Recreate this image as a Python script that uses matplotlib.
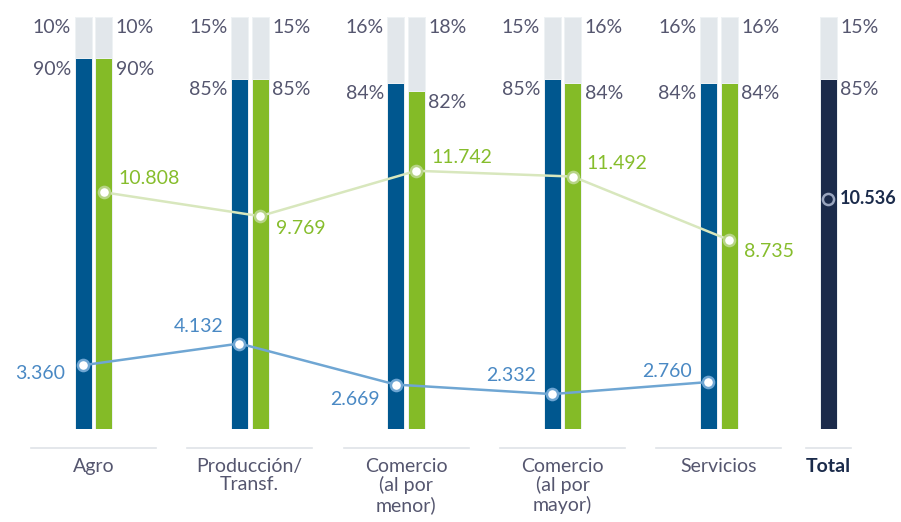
import matplotlib.pyplot as plt
import numpy as np

# Sector data
categories = ["Agro", "Producción/\nTransf.", "Comercio\n(al por\nmenor)",
              "Comercio\n(al por\nmayor)", "Servicios"]
blue_pct = [90, 85, 84, 85, 84]
green_pct = [90, 85, 82, 84, 84]
total_pct = 85
blue_vals = [3.360, 4.132, 2.669, 2.332, 2.760]
green_vals = [10.808, 9.769, 11.742, 11.492, 8.735]
total_val = 10.536
total_label = "Total"

# label offsets in pixels (dx, dy, ha)
green_offs = [(15, 14, "left"), (16, -12, "left"), (15, 13, "left"),
              (14, 13, "left"), (15, -12, "left")]
blue_offs = [(-18, -8, "right"), (-16, 17, "right"), (-16, -15, "right"),
             (-16, 19, "right"), (-17, 11, "right")]

plt.rcParams['font.family'] = ['Lato', 'DejaVu Sans']

c_blue = "#00578f"
c_green = "#84bb27"
c_navy = "#1b2b4b"
c_grey = "#e2e7eb"
c_text = "#55566f"
c_bline = "#6fa6d3"
c_blab = "#4a89c4"
c_gline = "#d8e7bd"
c_gmark = "#b7d486"
c_glab = "#86bd2c"

fig = plt.figure(figsize=(9.01, 5.22), dpi=100)
ax = fig.add_axes([0.0083, 0.178, 0.989, 0.789])
ax.set_xlim(-0.55, 5.15)
ax.set_ylim(0, 100)
ax.axis("off")

x = np.arange(len(categories))
x_tot = 4.70
w = 0.11
off = 0.066
fs = 14

bx = x - off
gx = x + off
edge = dict(edgecolor="#eef2f5", linewidth=0.7)
ax.bar(bx, blue_pct, w, color=c_blue, **edge)
ax.bar(bx, [100 - p for p in blue_pct], w, bottom=blue_pct, color=c_grey, **edge)
ax.bar(gx, green_pct, w, color=c_green, **edge)
ax.bar(gx, [100 - p for p in green_pct], w, bottom=green_pct, color=c_grey, **edge)
ax.bar(x_tot, total_pct, w, color=c_navy, **edge)
ax.bar(x_tot, 100 - total_pct, w, bottom=total_pct, color=c_grey, **edge)

# percentage labels
lx = w / 2 + 0.022
for i in range(len(categories)):
    ax.text(bx[i] - lx, 97.5, f"{100 - blue_pct[i]}%", ha="right", va="center",
            fontsize=fs, color=c_text)
    ax.text(bx[i] - lx, blue_pct[i] - 2.6, f"{blue_pct[i]}%", ha="right", va="center",
            fontsize=fs, color=c_text)
    ax.text(gx[i] + lx, 97.5, f"{100 - green_pct[i]}%", ha="left", va="center",
            fontsize=fs, color=c_text)
    ax.text(gx[i] + lx, green_pct[i] - 2.6, f"{green_pct[i]}%", ha="left", va="center",
            fontsize=fs, color=c_text)
ax.text(x_tot + lx, 97.5, f"{100 - total_pct}%", ha="left", va="center",
        fontsize=fs, color=c_text)
ax.text(x_tot + lx, total_pct - 2.6, f"{total_pct}%", ha="left", va="center",
        fontsize=fs, color=c_text)

# separators and category labels
for i, cat in enumerate(categories):
    ax.plot([x[i] - 0.40, x[i] + 0.40], [-4.6, -4.6], color="#dfe3e8", lw=1.2,
            clip_on=False)
    ax.text(x[i], -7.0, cat, ha="center", va="top", fontsize=14, color=c_text,
            linespacing=1.1)
ax.plot([x_tot - 0.145, x_tot + 0.145], [-4.6, -4.6], color="#dfe3e8", lw=1.2,
        clip_on=False)
ax.text(x_tot, -7.0, total_label, ha="center", va="top", fontsize=14,
        color=c_navy, fontweight="bold")

# value lines on their own scales
axg = ax.twinx()
axg.set_ylim(0.51, 18.42)
axg.axis("off")
axb = ax.twinx()
axb.set_ylim(1.085, 15.753)
axb.axis("off")

axg.plot(gx, green_vals, color=c_gline, lw=1.8, zorder=3)
axg.plot(gx, green_vals, "o", ms=8, mfc="white", mec=c_gmark, mew=1.8, zorder=4)
for i, v in enumerate(green_vals):
    dx, dy, ha = green_offs[i]
    axg.annotate(f"{v:.3f}", (gx[i], v), xytext=(dx * 0.72, dy * 0.72),
                 textcoords="offset points", ha=ha, va="center", fontsize=fs,
                 color=c_glab)

axb.plot(bx, blue_vals, color=c_bline, lw=1.8, zorder=3)
axb.plot(bx, blue_vals, "o", ms=8, mfc="white", mec=c_bline, mew=1.8, zorder=4)
for i, v in enumerate(blue_vals):
    dx, dy, ha = blue_offs[i]
    axb.annotate(f"{v:.3f}", (bx[i], v), xytext=(dx * 0.72, dy * 0.72),
                 textcoords="offset points", ha=ha, va="center", fontsize=fs,
                 color=c_blab)

axg.plot([x_tot], [total_val], "o", ms=8, mfc=c_navy, mec="#9aa6bf", mew=1.8,
         zorder=4)
axg.annotate(f"{total_val:.3f}", (x_tot, total_val), xytext=(8, 0),
             textcoords="offset points", ha="left", va="center", fontsize=13,
             color=c_navy, fontweight="bold")

fig.savefig("out.png", dpi=100)
